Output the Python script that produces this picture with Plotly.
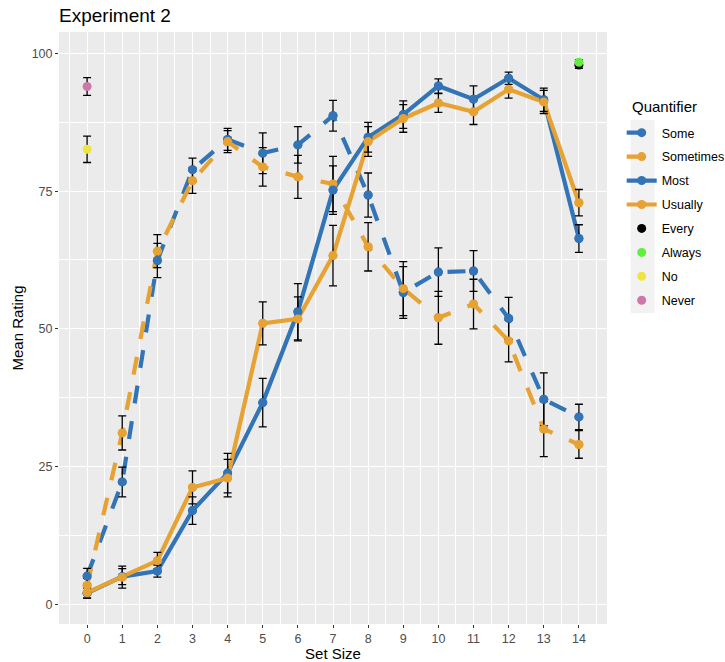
import plotly.graph_objects as go

# ---------------- data ----------------
set_size = list(range(15))
tick_labels = [str(i) for i in set_size]

some_mean = [5.1, 22.2, 62.4, 78.9, 84.4, 81.9, 83.4, 88.7, 74.3, 56.6, 60.3, 60.5, 51.9, 37.2, 34.0]
some_se = [1.4, 2.7, 3.1, 2.1, 2.0, 3.7, 3.3, 2.8, 4.0, 4.7, 4.4, 3.7, 3.8, 4.8, 2.3]

sometimes_mean = [3.4, 31.1, 64.1, 76.9, 84.0, 79.4, 77.6, 76.3, 64.9, 57.3, 52.0, 54.5, 47.8, 31.8, 29.0]
sometimes_se = [1.3, 3.1, 3.0, 2.3, 2.0, 3.5, 3.9, 5.0, 4.4, 4.9, 4.8, 4.5, 3.8, 5.0, 2.5]

most_mean = [2.0, 5.0, 6.0, 17.0, 23.8, 36.6, 53.1, 75.2, 84.8, 88.9, 94.1, 91.7, 95.5, 91.6, 66.4]
most_se = [0.9, 1.45, 1.1, 2.5, 3.6, 4.4, 5.1, 4.4, 2.7, 2.5, 1.3, 2.4, 1.1, 2.1, 2.5]

usually_mean = [2.1, 4.9, 7.9, 21.2, 22.9, 51.0, 51.8, 63.3, 84.0, 88.2, 91.0, 89.4, 93.5, 91.2, 72.9]
usually_se = [1.0, 2.0, 1.5, 3.0, 3.4, 3.9, 4.0, 5.5, 2.7, 2.5, 1.7, 2.3, 1.6, 2.1, 2.4]

every_x, every_mean, every_se = [14], [97.9], [0.6]
always_x, always_mean, always_se = [14], [98.4], [0.5]
no_x, no_mean, no_se = [0], [82.6], [2.4]
never_x, never_mean, never_se = [0], [94.0], [1.6]

BLUE = "#3274B5"
ORANGE = "#E6A232"
BLACK = "#000000"
GREEN = "#5FEF3C"
YELLOW = "#F0E442"
PINK = "#CC79A7"

line_series = [
    ("Some", set_size, some_mean, some_se, BLUE, "18px,18px"),
    ("Sometimes", set_size, sometimes_mean, sometimes_se, ORANGE, "18px,18px"),
    ("Most", set_size, most_mean, most_se, BLUE, "solid"),
    ("Usually", set_size, usually_mean, usually_se, ORANGE, "solid"),
]
dot_series = [
    ("Every", every_x, every_mean, every_se, BLACK),
    ("Always", always_x, always_mean, always_se, GREEN),
    ("No", no_x, no_mean, no_se, YELLOW),
    ("Never", never_x, never_mean, never_se, PINK),
]

fig = go.Figure()

# lines (with legend entries)
for name, xs, ys, se, col, dash in line_series:
    fig.add_trace(go.Scatter(
        x=xs, y=ys, name=name, mode="lines+markers", legendgroup=name,
        line=dict(color=col, width=4.2, dash=dash),
        marker=dict(color=col, size=9),
    ))

# error bars
for name, xs, ys, se, col, *_ in line_series + dot_series:
    fig.add_trace(go.Scatter(
        x=xs, y=ys, mode="markers", showlegend=False, hoverinfo="skip",
        marker=dict(color="rgba(0,0,0,0)", size=1),
        error_y=dict(type="data", array=se, visible=True, color="black",
                     thickness=1.3, width=4),
    ))

# points on top
for name, xs, ys, se, col, dash in line_series:
    fig.add_trace(go.Scatter(
        x=xs, y=ys, mode="markers", showlegend=False, legendgroup=name,
        marker=dict(color=col, size=9),
    ))

for name, xs, ys, se, col in dot_series:
    fig.add_trace(go.Scatter(
        x=xs, y=ys, name=name, mode="markers", legendgroup=name,
        marker=dict(color=col, size=9),
    ))

FONT = "Liberation Sans, Arial, Helvetica, sans-serif"
VIEW_W, VIEW_H = 725, 662
W, H = 760, VIEW_H  # extra width so the legend text is not clipped
# panel edges in page pixels
P_LEFT, P_RIGHT, P_TOP, P_BOTTOM = 58.7, 607.3, 32.0, 624.0
L = P_LEFT
R = W - P_RIGHT
T = P_TOP
B = H - P_BOTTOM
pw = W - L - R
ph = H - T - B

def px_x(p):
    return (p - P_LEFT) / pw

def px_y(p):
    return (P_BOTTOM - p) / ph

fig.add_shape(type="rect", xref="paper", yref="paper",
              x0=px_x(631), x1=px_x(655), y0=px_y(313), y1=px_y(120),
              fillcolor="#F2F2F2", line=dict(width=0), layer="below")

fig.add_annotation(text="Quantifier", xref="paper", yref="paper",
                   x=px_x(630), y=px_y(107), xanchor="left", yanchor="middle",
                   showarrow=False, font=dict(size=15, color="black", family=FONT))

fig.update_layout(
    width=W, height=H,
    margin=dict(l=L, r=R, t=T, b=B, pad=0, autoexpand=False),
    paper_bgcolor="white",
    plot_bgcolor="#EBEBEB",
    font=dict(family=FONT, color="black"),
    title=dict(text="Experiment 2", x=0, xref="paper", xanchor="left",
               y=1 - 15 / H, yref="container", yanchor="middle",
               font=dict(size=19, color="black", family=FONT)),
    legend=dict(
        font=dict(size=12.5, color="black"),
        x=px_x(622), xanchor="left", y=px_y(118), yanchor="top",
        bgcolor="rgba(0,0,0,0)", tracegroupgap=4.7,
        traceorder="grouped",
    ),
    showlegend=True,
)

fig.update_xaxes(
    range=[-0.8, 14.8], tickmode="array", tickvals=set_size, ticktext=tick_labels,
    showgrid=True, gridcolor="white", gridwidth=1.1, zeroline=False,
    ticks="outside", ticklen=3, tickcolor="#333333", tickwidth=1,
    tickfont=dict(size=12.5, color="#4D4D4D"),
    minor=dict(tick0=0.5, dtick=1, showgrid=True, gridcolor="white", gridwidth=0.55, ticks=""),
    title=dict(text="Set Size", font=dict(size=15, color="black"), standoff=0),
    showline=False, automargin=False,
)
fig.update_yaxes(
    range=[-3.6, 103.9], tickmode="array", tickvals=[0, 25, 50, 75, 100],
    showgrid=True, gridcolor="white", gridwidth=1.1, zeroline=False,
    ticks="outside", ticklen=3, tickcolor="#333333", tickwidth=1,
    tickfont=dict(size=12.5, color="#4D4D4D"),
    minor=dict(tick0=0, dtick=12.5, showgrid=True, gridcolor="white", gridwidth=0.55, ticks=""),
    title=dict(text="Mean Rating", font=dict(size=15, color="black"), standoff=4),
    showline=False, automargin=False,
)

fig.write_html(
    "out.html",
    config={"displayModeBar": False},
    post_script="document.body.style.margin='0px';document.body.style.overflow='hidden';",
)
